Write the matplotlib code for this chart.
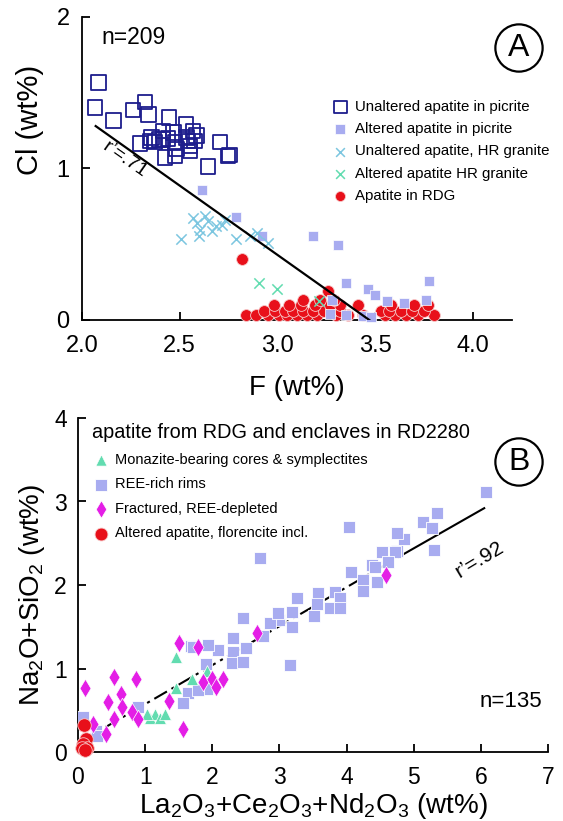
import matplotlib
matplotlib.use('Agg')
import matplotlib.pyplot as plt

plt.rcParams['font.family'] = ['Liberation Sans', 'DejaVu Sans']
plt.rcParams['mathtext.fontset'] = 'custom'
plt.rcParams['mathtext.rm'] = 'Liberation Sans'
plt.rcParams['mathtext.it'] = 'Liberation Sans:italic'
plt.rcParams['mathtext.default'] = 'regular'

# ---------------- Panel A: Cl vs F ----------------
unalt_pic_F = [2.083, 2.066, 2.160, 2.262, 2.322, 2.339, 2.446, 2.531, 2.569, 2.467,
               2.415, 2.356, 2.395, 2.296, 2.373, 2.415, 2.475, 2.535, 2.552, 2.586,
               2.577, 2.484, 2.424, 2.475, 2.552, 2.705, 2.748, 2.645, 2.347, 2.441,
               2.543, 2.755]
unalt_pic_Cl = [1.568, 1.402, 1.318, 1.386, 1.439, 1.358, 1.336, 1.291, 1.247, 1.236,
                1.247, 1.203, 1.192, 1.166, 1.174, 1.192, 1.170, 1.203, 1.148, 1.219,
                1.181, 1.130, 1.071, 1.082, 1.115, 1.174, 1.082, 1.015, 1.181, 1.197,
                1.181, 1.090]

alt_pic_F = [2.612, 2.787, 2.923, 3.182, 3.310, 3.352, 3.463, 3.497, 3.562, 3.650,
             3.758, 3.775, 3.281, 3.267, 3.352, 3.437, 3.480]
alt_pic_Cl = [0.856, 0.680, 0.556, 0.556, 0.497, 0.243, 0.203, 0.166, 0.128, 0.115,
              0.132, 0.260, 0.132, 0.040, 0.033, 0.026, 0.018]

unalt_hr_F = [2.509, 2.569, 2.599, 2.645, 2.663, 2.714, 2.731, 2.790, 2.858, 2.952,
              2.629, 2.586, 2.688, 2.893, 2.603]
unalt_hr_Cl = [0.534, 0.673, 0.552, 0.651, 0.585, 0.629, 0.662, 0.534, 0.552, 0.508,
               0.684, 0.640, 0.618, 0.574, 0.596]

alt_hr_F = [2.906, 2.998, 3.213]
alt_hr_Cl = [0.243, 0.203, 0.128]

rdg_F = [2.82, 3.26,
         2.84, 2.89, 2.95, 3.01, 3.05, 3.10, 3.15, 3.20, 3.30, 3.36, 3.44, 3.55, 3.60, 3.66, 3.72, 3.80,
         2.93, 2.99, 3.04, 3.08, 3.13, 3.18, 3.24, 3.28, 3.32, 3.53, 3.57, 3.63, 3.69, 3.75,
         2.98, 3.06, 3.12, 3.19, 3.27, 3.32, 3.41, 3.58, 3.70, 3.77,
         3.13, 3.22, 3.29]
rdg_Cl = [0.40, 0.19,
          0.03, 0.03, 0.03, 0.03, 0.03, 0.03, 0.03, 0.03, 0.03, 0.03, 0.03, 0.03, 0.03, 0.03, 0.03, 0.03,
          0.06, 0.06, 0.06, 0.06, 0.06, 0.06, 0.06, 0.06, 0.06, 0.06, 0.06, 0.06, 0.06, 0.06,
          0.10, 0.10, 0.10, 0.10, 0.10, 0.10, 0.10, 0.10, 0.10, 0.10,
          0.13, 0.13, 0.13]

fit_a_F = [2.07, 3.47]
fit_a_Cl = [1.28, 0.0]

a_xticks = [2.0, 2.5, 3.0, 3.5, 4.0]
a_yticks = [0, 1, 2]

# ---------------- Panel B: Na2O+SiO2 vs LREE ----------------
rim_x = [6.07, 5.35, 5.14, 5.27, 4.86, 4.75, 5.30, 4.04, 2.71, 4.75,
         4.53, 4.72, 4.62, 4.38, 4.43, 4.06, 4.25, 4.45, 4.24, 3.57,
         3.83, 3.90, 3.26, 3.56, 3.76, 3.90, 3.19, 3.51, 3.00, 2.86,
         3.19, 2.45, 2.76, 2.31, 2.50, 2.31, 2.08, 1.94, 1.91, 2.29,
         3.15, 2.98, 2.46, 1.69, 1.64, 1.56, 1.92, 1.79, 0.89, 0.08,
         1.72, 0.27, 0.29]
rim_y = [3.11, 2.86, 2.76, 2.68, 2.55, 2.41, 2.42, 2.69, 2.32, 2.62,
         2.40, 2.40, 2.28, 2.24, 2.22, 2.16, 2.06, 2.04, 1.93, 1.91,
         1.92, 1.84, 1.84, 1.77, 1.73, 1.72, 1.68, 1.63, 1.58, 1.55,
         1.50, 1.60, 1.39, 1.37, 1.24, 1.20, 1.22, 1.28, 1.05, 1.07,
         1.04, 1.66, 1.08, 1.27, 0.71, 0.59, 0.76, 0.74, 0.54, 0.42,
         1.26, 0.25, 0.19]

mon_x = [1.46, 1.46, 1.07, 1.14, 1.22, 1.30, 1.03, 1.70, 1.92]
mon_y = [1.14, 0.77, 0.41, 0.45, 0.41, 0.45, 0.46, 0.88, 0.97]

frac_x = [0.11, 0.54, 0.86, 0.64, 0.44, 0.66, 0.80, 0.53, 0.90, 0.22,
          0.41, 1.36, 1.57, 1.51, 1.79, 1.86, 1.99, 2.06, 2.16, 2.67, 4.58]
frac_y = [0.77, 0.90, 0.87, 0.70, 0.60, 0.54, 0.48, 0.40, 0.40, 0.34,
          0.21, 0.61, 0.27, 1.31, 1.26, 0.84, 0.88, 0.78, 0.88, 1.43, 2.12]

flor_x = [0.09, 0.12, 0.08, 0.14, 0.06, 0.11]
flor_y = [0.32, 0.15, 0.10, 0.05, 0.05, 0.02]

# regression line: broken where it runs through the dense cloud, solid beyond it
fit_b_x = [0.05, 4.85, 6.05]
fit_b_y = [0.13, 2.37, 2.92]

b_xticks = [0, 1, 2, 3, 4, 5, 6, 7]
b_yticks = [0, 1, 2, 3, 4]

NAVY = '#1d1d8c'
LAV = '#a8acf0'
LBLUE = '#7cc6e0'
MINT = '#62dcb0'
RED = '#e8101a'
MAG = '#e41ee6'

W, H = 563, 821
fig = plt.figure(figsize=(W / 100, H / 100), dpi=100)


def fx(px):
    return px / W


def fy(py):
    return 1 - py / H


def style_axes(ax, labelsize):
    for s in ('top', 'right'):
        ax.spines[s].set_visible(False)
    for s in ('left', 'bottom'):
        ax.spines[s].set_linewidth(1.3)
    ax.tick_params(direction='in', length=6, width=1.3, labelsize=labelsize)


# ---- Panel A ----
axa = fig.add_axes([fx(82), fy(320), (512 - 82) / W, (320 - 17) / H])
style_axes(axa, 17)
axa.set_xlim(2.0, 4.2)
axa.set_ylim(0, 2.0)
axa.set_xticks(a_xticks)
axa.set_xticklabels([f'{v:.1f}' for v in a_xticks])
axa.set_yticks(a_yticks)
axa.set_yticklabels([str(v) for v in a_yticks])
axa.tick_params(axis='x', pad=11)
axa.tick_params(axis='y', pad=9)

h_red = axa.scatter(rdg_F, rdg_Cl, s=72, marker='o', facecolors=RED,
                    edgecolors='#f6c8c8', linewidths=0.6, zorder=3, clip_on=False)
h_lav = axa.scatter(alt_pic_F, alt_pic_Cl, s=62, marker='s', facecolors=LAV,
                    edgecolors='white', linewidths=0.5, zorder=4, clip_on=False)
h_lb = axa.scatter(unalt_hr_F, unalt_hr_Cl, s=55, marker='x', color=LBLUE,
                   linewidths=1.1, zorder=4)
h_mint = axa.scatter(alt_hr_F, alt_hr_Cl, s=55, marker='x', color=MINT,
                     linewidths=1.1, zorder=4)
h_navy = axa.scatter(unalt_pic_F, unalt_pic_Cl, s=110, marker='s', facecolors='none',
                     edgecolors=NAVY, linewidths=1.3, zorder=5)
axa.plot(fit_a_F, fit_a_Cl, color='black', lw=1.6, zorder=6)

axa.legend([h_navy, h_lav, h_lb, h_mint, h_red],
           ['Unaltered apatite in picrite', 'Altered apatite in picrite',
            'Unaltered apatite, HR granite', 'Altered apatite HR granite',
            'Apatite in RDG'],
           loc='upper left', bbox_to_anchor=(fx(333), fy(100)),
           bbox_transform=fig.transFigure, frameon=False, fontsize=10.8,
           handlelength=1.0, handletextpad=0.45, labelspacing=0.55,
           borderpad=0, borderaxespad=0, scatterpoints=1, markerscale=0.85)

axa.text(2.22, 1.06, 'r\u2019=.71', rotation=-35, rotation_mode='anchor',
         ha='center', va='center', fontsize=14)

fig.text(fx(101), fy(37), 'n=209', fontsize=16.5, ha='left', va='center')
fig.text(fx(519), fy(48), 'A', fontsize=23, ha='center', va='center',
         bbox=dict(boxstyle='circle,pad=0.27', fc='white', ec='black', lw=1.6))
fig.text(fx(30), fy(120), 'Cl (wt%)', fontsize=21, rotation=90,
         ha='center', va='center')
fig.text(fx(297), fy(388), 'F (wt%)', fontsize=20, ha='center', va='center')

# ---- Panel B ----
axb = fig.add_axes([fx(78), fy(752), (548 - 78) / W, (752 - 418) / H])
style_axes(axb, 16.5)
axb.set_xlim(0, 7)
axb.set_ylim(0, 4)
axb.set_xticks(b_xticks)
axb.set_yticks(b_yticks)
axb.set_xticks([5], minor=True)
axb.tick_params(axis='x', which='minor', direction='in', length=12, width=1.3)
axb.tick_params(axis='x', pad=10)
axb.tick_params(axis='y', pad=8)

axb.plot(fit_b_x[:2], fit_b_y[:2], color='black', lw=1.5, zorder=2,
         linestyle=(0, (7, 2.5, 1.5, 2.5)))
axb.plot(fit_b_x[1:], fit_b_y[1:], color='black', lw=1.5, zorder=2)
h_rim = axb.scatter(rim_x, rim_y, s=78, marker='s', facecolors=LAV,
                    edgecolors='white', linewidths=0.6, zorder=3)
h_mon = axb.scatter(mon_x, mon_y, s=72, marker='^', facecolors=MINT,
                    edgecolors='white', linewidths=0.5, zorder=4)
h_frac = axb.scatter(frac_x, frac_y, s=88, marker='d', facecolors=MAG,
                     edgecolors='white', linewidths=0.5, zorder=5)
h_flor = axb.scatter(flor_x, flor_y, s=95, marker='o', facecolors=RED,
                     edgecolors='#f6c8c8', linewidths=0.6, zorder=6, clip_on=False)

axb.legend([h_mon, h_rim, h_frac, h_flor],
           ['Monazite-bearing cores & symplectites', 'REE-rich rims',
            'Fractured, REE-depleted', 'Altered apatite, florencite incl.'],
           loc='upper left', bbox_to_anchor=(fx(94), fy(453)),
           bbox_transform=fig.transFigure, frameon=False, fontsize=10.5,
           handlelength=1.0, handletextpad=0.45, labelspacing=0.72,
           borderpad=0, borderaxespad=0, scatterpoints=1, markerscale=0.95)

axb.text(5.98, 2.30, 'r\u2019=.92', rotation=31, rotation_mode='anchor',
         ha='center', va='center', fontsize=15)
axb.text(6.44, 0.60, 'n=135', ha='center', va='center', fontsize=16)

fig.text(fx(92), fy(432), 'apatite from RDG and enclaves in RD2280',
         fontsize=14.3, ha='left', va='center')
fig.text(fx(519), fy(462), 'B', fontsize=23, ha='center', va='center',
         bbox=dict(boxstyle='circle,pad=0.27', fc='white', ec='black', lw=1.6))
fig.text(fx(32), fy(595), 'Na$_2$O+SiO$_2$ (wt%)', fontsize=20, rotation=90,
         ha='center', va='center')
fig.text(fx(313), fy(806), 'La$_2$O$_3$+Ce$_2$O$_3$+Nd$_2$O$_3$ (wt%)',
         fontsize=20, ha='center', va='center')

fig.savefig('out.png', dpi=100)
